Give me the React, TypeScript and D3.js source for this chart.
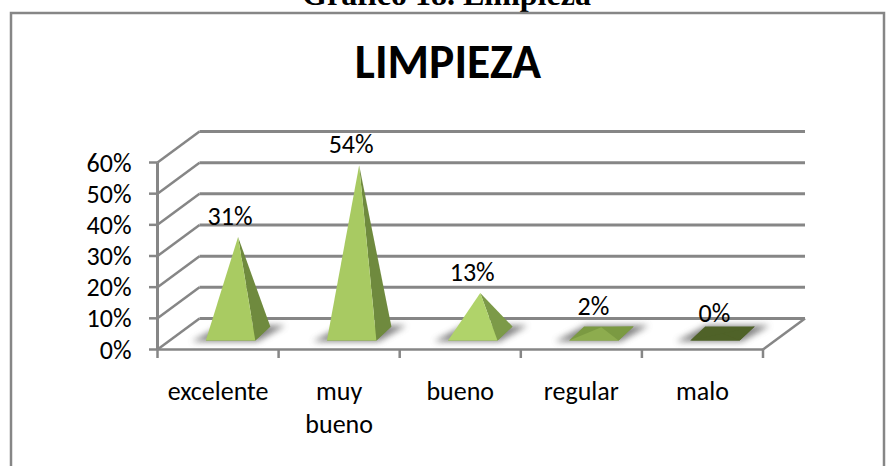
import React from "react";
import * as d3 from "d3";

const categories = ["excelente", "muy bueno", "bueno", "regular", "malo"];
const values = [31, 54, 13, 2, 0];
const percentLabels = ["31%", "54%", "13%", "2%", "0%"];
const yTicks = [0, 10, 20, 30, 40, 50, 60];
const chartTitle = "LIMPIEZA";
const caption = "Gráfico 18. Limpieza";

const frontFill = ["#a9cb62", "#a8ca62", "#b0d36a", "#8dac4e", "#4f6228"];
const sideFill = ["#6f8a3e", "#6f8a3e", "#7c9a48", "#7b9a42", "#4f6228"];

const GRID = "#868686";
const FONT = "Carlito, Calibri, Lato, sans-serif";
const DX = 42;
const DY = -31;
const BASE_W = 49.5;
const BASE_DX = 15;
const BASE_DY = -14;

const x = d3.scaleBand<string>().domain(categories).range([157.5, 763]);
const y = d3.scaleLinear().domain([0, 60]).range([349.5, 162.5]);
const poly = (pts: number[][]) => pts.map((p) => p.join(",")).join(" ");

export default function App() {
  const right = x.range()[1];
  const left = x.range()[0];
  const boundaries = [...categories.map((c) => x(c) as number), right];
  return (
    <svg
      width={892}
      height={466}
      style={{ position: "absolute", left: 0, top: 0, background: "#fff" }}
    >
      <defs>
        <filter id="blur" x="-30%" y="-100%" width="160%" height="300%">
          <feGaussianBlur stdDeviation="3" />
        </filter>
      </defs>
      <text
        x={446.5}
        y={5}
        textAnchor="middle"
        fontFamily="'Liberation Serif', serif"
        fontWeight="bold"
        fontSize={32}
        fill="#000"
      >
        {caption}
      </text>
      <path d="M11 466V13H884V466" fill="none" stroke={GRID} strokeWidth={2.5} />
      <text
        x={448}
        y={78}
        textAnchor="middle"
        fontFamily={FONT}
        fontWeight="bold"
        fontSize={47.5}
        fill="#000"
      >
        {chartTitle}
      </text>

      {yTicks.map((t) => (
        <g key={t} stroke={GRID} fill="none">
          {t > 0 && (
            <line x1={left + DX} x2={right + DX} y1={y(t) + DY} y2={y(t) + DY} strokeWidth={3} />
          )}
          <line x1={left} x2={left + DX} y1={y(t)} y2={y(t) + DY} strokeWidth={2.5} />
          <line x1={149} x2={left} y1={y(t)} y2={y(t)} strokeWidth={2.5} />
        </g>
      ))}
      <line x1={left + DX} x2={right + DX} y1={y(0) + DY} y2={y(0) + DY} stroke={GRID} strokeWidth={3} />
      <line x1={left} x2={left} y1={y(60)} y2={y(0)} stroke={GRID} strokeWidth={3} />
      <line x1={left} x2={right} y1={y(0)} y2={y(0)} stroke={GRID} strokeWidth={2.5} />
      <line x1={right} x2={right + DX} y1={y(0)} y2={y(0) + DY} stroke={GRID} strokeWidth={2.5} />
      {boundaries.map((b) => (
        <line key={b} x1={b} x2={b} y1={y(0)} y2={358} stroke={GRID} strokeWidth={2.5} />
      ))}

      {yTicks.map((t) => (
        <text
          key={t}
          x={131.5}
          y={y(t) + 9}
          textAnchor="end"
          fontFamily={FONT}
          fontSize={26}
          fill="#000"
        >
          {t}%
        </text>
      ))}

      {categories.map((c, i) => {
        const center = (x(c) as number) + x.bandwidth() / 2;
        const x0 = center - BASE_W / 2 + 12.5;
        const x1 = x0 + BASE_W;
        const yF = 340.5;
        const h = y(0) - y(values[i]);
        const apex = [(x0 + x1 + BASE_DX) / 2, yF + BASE_DY / 2 - h];
        const fl = [x0, yF];
        const fr = [x1, yF];
        const br = [x1 + BASE_DX, yF + BASE_DY];
        const bl = [x0 + BASE_DX, yF + BASE_DY];
        const words = c.split(" ");
        return (
          <g key={c}>
            <polygon
              points={poly([[x0 - 14, yF + 1], [x1 + 2, yF + 1], [x1 + 30, yF + BASE_DY - 1], [x0 + 16, yF + BASE_DY - 1]])}
              fill="#5a5a5a"
              filter="url(#blur)"
              opacity={0.75}
            />
            <polygon points={poly([fl, fr, br, bl])} fill={sideFill[i]} />
            <polygon points={poly([fr, br, apex])} fill={sideFill[i]} />
            <polygon points={poly([fl, fr, apex])} fill={frontFill[i]} />
            <text
              x={center + 12}
              y={apex[1] - 12}
              textAnchor="middle"
              fontFamily={FONT}
              fontSize={26}
              fill="#000"
            >
              {percentLabels[i]}
            </text>
            {words.map((w, k) => (
              <text
                key={w}
                x={center}
                y={400 + k * 33}
                textAnchor="middle"
                fontFamily={FONT}
                fontSize={26}
                fill="#000"
              >
                {w}
              </text>
            ))}
          </g>
        );
      })}
    </svg>
  );
}
